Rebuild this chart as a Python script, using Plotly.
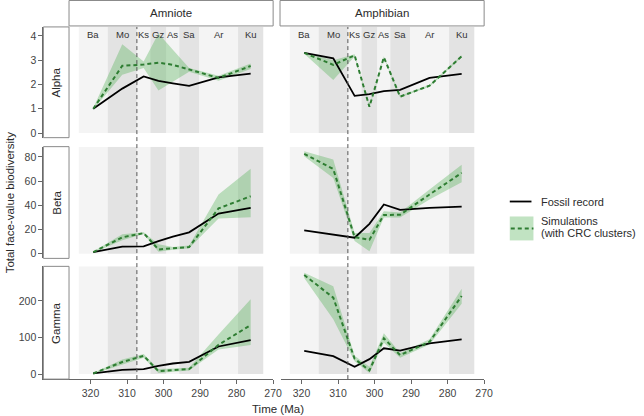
import plotly.graph_objects as go

# ---------------- data ----------------
stages = ["Ba", "Mo", "Ks", "Gz", "As", "Sa", "Ar", "Ku"]
stage_bounds = [323.2, 315.3, 307.3, 303.6, 299.2, 295.7, 290.3, 279.6, 272.7]
time_ma = [319.25, 311.3, 305.45, 301.4, 297.45, 293.0, 284.95, 276.15]
crc_age = 307.3

clades = ["Amniote", "Amphibian"]
metrics = ["Alpha", "Beta", "Gamma"]

# Amniote
amn_alpha_fossil = [1.0, 1.83, 2.33, 2.15, 2.05, 1.94, 2.29, 2.45]
amn_alpha_sim = [1.0, 2.77, 2.82, 2.90, 2.81, 2.62, 2.27, 2.76]
amn_alpha_hi = [1.03, 3.66, 2.95, 4.10, 3.43, 2.68, 2.36, 2.86]
amn_alpha_lo = [0.97, 2.40, 2.68, 1.75, 2.12, 2.52, 2.15, 2.64]

amn_beta_fossil = [1.3, 5.8, 6.0, 10.4, 14.0, 17.6, 33.2, 37.9]
amn_beta_sim = [1.3, 13.5, 17.0, 3.5, 4.4, 5.5, 37.4, 47.5]
amn_beta_hi = [1.8, 16.0, 17.8, 7.7, 5.5, 6.8, 49.0, 70.3]
amn_beta_lo = [0.8, 11.0, 16.2, 1.6, 3.3, 4.5, 29.0, 30.2]

amn_gamma_fossil = [1.8, 11.5, 13.6, 22.7, 29.0, 33.6, 75.5, 92.7]
amn_gamma_sim = [1.8, 33.0, 50.0, 8.0, 11.0, 13.6, 80.0, 134.0]
amn_gamma_hi = [3.0, 40.0, 55.0, 14.0, 15.0, 17.5, 108.0, 204.5]
amn_gamma_lo = [0.5, 27.0, 45.0, 3.0, 7.0, 10.0, 67.0, 79.5]

# Amphibian
amp_alpha_fossil = [3.30, 3.08, 1.53, 1.60, 1.73, 1.78, 2.27, 2.44]
amp_alpha_sim = [3.30, 2.81, 3.20, 1.08, 3.12, 1.50, 1.95, 3.16]
amp_alpha_hi = [3.33, 3.00, 3.25, 1.12, 3.16, 1.54, 1.99, 3.20]
amp_alpha_lo = [3.27, 2.19, 3.15, 1.04, 3.08, 1.46, 1.91, 3.12]

amp_beta_fossil = [19.2, 15.4, 13.2, 24.7, 40.7, 36.2, 37.9, 38.9]
amp_beta_sim = [82.5, 70.0, 13.6, 11.5, 32.0, 32.2, 48.9, 66.8]
amp_beta_hi = [84.6, 77.8, 17.0, 17.0, 35.0, 34.0, 53.0, 73.6]
amp_beta_lo = [80.5, 62.5, 10.5, 2.0, 30.0, 30.0, 44.8, 59.0]

amp_gamma_fossil = [63.6, 49.0, 20.0, 40.9, 70.5, 64.0, 84.0, 95.0]
amp_gamma_sim = [271.0, 209.0, 42.0, 10.0, 98.0, 52.0, 88.0, 213.6]
amp_gamma_hi = [277.0, 240.0, 50.0, 20.0, 111.5, 58.0, 95.0, 233.0]
amp_gamma_lo = [263.0, 150.0, 35.0, 3.0, 86.0, 45.0, 81.0, 192.0]

y_ticks = [[0, 1, 2, 3, 4], [0, 20, 40, 60, 80], [0, 100, 200]]
y_ranges = [[-0.19, 4.37], [-3.9, 88.5], [-13.6, 294.5]]
x_ticks = [320, 310, 300, 290, 280, 270]
x_ranges = [[332.9, 270], [325.6, 270]]

panels = {
    (0, 0): (amn_alpha_fossil, amn_alpha_sim, amn_alpha_hi, amn_alpha_lo),
    (1, 0): (amn_beta_fossil, amn_beta_sim, amn_beta_hi, amn_beta_lo),
    (2, 0): (amn_gamma_fossil, amn_gamma_sim, amn_gamma_hi, amn_gamma_lo),
    (0, 1): (amp_alpha_fossil, amp_alpha_sim, amp_alpha_hi, amp_alpha_lo),
    (1, 1): (amp_beta_fossil, amp_beta_sim, amp_beta_hi, amp_beta_lo),
    (2, 1): (amp_gamma_fossil, amp_gamma_sim, amp_gamma_hi, amp_gamma_lo),
}

# ---------------- styling ----------------
W, H = 644, 416
FONT = "Liberation Sans, Arial, sans-serif"
TXT = "#2b2b2b"
TICK = "#444444"
AX = "#666666"
RIB = "rgba(76,175,80,0.35)"
SIMC = "#2e7d32"
LIGHT = "#f4f4f4"
DARK = "#e3e3e3"
STRIP_LINE = "#8a8a8a"

col_px = [(44, 277), (285, 491)]
row_px = [(27, 138), (147, 259), (267, 380)]


def px_x(p):
    return p / W


def px_y(p):
    return 1 - p / H


fig = go.Figure()
layout = dict(
    width=W, height=H, margin=dict(l=0, r=0, t=0, b=0), autosize=False,
    paper_bgcolor="white", plot_bgcolor="white", showlegend=False,
    font=dict(family=FONT, size=11, color=TXT),
)
shapes = []
annotations = []

for (r, c), (fos, sim, hi, lo) in panels.items():
    k = r * 2 + c + 1
    xa = "x" if k == 1 else f"x{k}"
    ya = "y" if k == 1 else f"y{k}"
    xkey = "xaxis" if k == 1 else f"xaxis{k}"
    ykey = "yaxis" if k == 1 else f"yaxis{k}"
    bottom = r == 2
    left = c == 0
    layout[xkey] = dict(
        domain=[px_x(col_px[c][0]), px_x(col_px[c][1])], range=x_ranges[c],
        anchor=ya, showgrid=False, zeroline=False,
        showline=bottom, linecolor=AX, linewidth=1,
        ticks="outside" if bottom else "", ticklen=4, tickcolor=AX,
        tickvals=x_ticks if bottom else [], showticklabels=bottom,
        tickfont=dict(size=10.5, color=TICK, family=FONT),
    )
    layout[ykey] = dict(
        domain=[px_y(row_px[r][1]), px_y(row_px[r][0])], range=y_ranges[r],
        anchor=xa, showgrid=False, zeroline=False,
        showline=left, linecolor=AX, linewidth=1,
        ticks="outside" if left else "", ticklen=4, tickcolor=AX,
        tickvals=y_ticks[r] if left else [], showticklabels=left,
        tickfont=dict(size=10.5, color=TICK, family=FONT),
    )
    # stage bands
    for i in range(len(stages)):
        shapes.append(dict(
            type="rect", xref=xa, yref=ya,
            x0=stage_bounds[i], x1=stage_bounds[i + 1],
            y0=0, y1=y_ranges[r][1],
            fillcolor=LIGHT if i % 2 == 0 else DARK, line=dict(width=0),
            layer="below",
        ))
    # ribbon
    fig.add_trace(go.Scatter(
        x=time_ma + time_ma[::-1], y=hi + lo[::-1], xaxis=xa, yaxis=ya,
        fill="toself", fillcolor=RIB, line=dict(width=0), mode="lines",
        hoverinfo="skip",
    ))
    fig.add_trace(go.Scatter(
        x=time_ma, y=fos, xaxis=xa, yaxis=ya, mode="lines",
        line=dict(color="black", width=1.8),
    ))
    fig.add_trace(go.Scatter(
        x=time_ma, y=sim, xaxis=xa, yaxis=ya, mode="lines",
        line=dict(color=SIMC, width=2, dash="4px,3px"),
    ))
    # stage labels on top row
    if r == 0:
        for i, s in enumerate(stages):
            annotations.append(dict(
                x=(stage_bounds[i] + stage_bounds[i + 1]) / 2, xref=xa,
                y=px_y(35), yref="paper", text=s, showarrow=False,
                font=dict(size=9.5, color="#333333", family=FONT),
                xanchor="center", yanchor="middle",
            ))
    # CRC dashed line (spanning all rows)
    if r == 0:
        shapes.append(dict(
            type="line", xref=xa, yref="paper", x0=crc_age, x1=crc_age,
            y0=px_y(380), y1=px_y(27),
            line=dict(color="#555555", width=1, dash="4px,3px"), layer="above",
        ))

# top strips
for c, name in enumerate(clades):
    x0 = 70 if c == 0 else 284
    x1 = 277 if c == 0 else 491
    shapes.append(dict(
        type="rect", xref="paper", yref="paper",
        x0=px_x(x0), x1=px_x(x1), y0=px_y(26), y1=px_y(0.5),
        fillcolor="white", line=dict(color=STRIP_LINE, width=1), layer="above",
    ))
    annotations.append(dict(
        x=px_x((x0 + x1) / 2), y=px_y(13), xref="paper", yref="paper",
        text=name, showarrow=False, font=dict(size=11.5, color=TXT, family=FONT),
        xanchor="center", yanchor="middle",
    ))

# side strips
for r, name in enumerate(metrics):
    y0, y1 = row_px[r]
    shapes.append(dict(
        type="rect", xref="paper", yref="paper",
        x0=px_x(44), x1=px_x(70), y0=px_y(y1), y1=px_y(y0),
        fillcolor="white", line=dict(color=STRIP_LINE, width=1), layer="above",
    ))
    annotations.append(dict(
        x=px_x(57), y=px_y((y0 + y1) / 2), xref="paper", yref="paper",
        text=name, showarrow=False, textangle=-90,
        font=dict(size=11.5, color=TXT, family=FONT),
        xanchor="center", yanchor="middle",
    ))

# axis titles
annotations.append(dict(
    x=px_x(282), y=px_y(410), xref="paper", yref="paper", text="Time (Ma)",
    showarrow=False, font=dict(size=11.5, color=TXT, family=FONT),
    xanchor="center", yanchor="middle",
))
annotations.append(dict(
    x=px_x(10), y=px_y(203), xref="paper", yref="paper",
    text="Total face-value biodiversity", textangle=-90,
    showarrow=False, font=dict(size=11.5, color=TXT, family=FONT),
    xanchor="center", yanchor="middle",
))

# legend (manual)
shapes.append(dict(type="line", xref="paper", yref="paper",
                   x0=px_x(517), x1=px_x(539), y0=px_y(202), y1=px_y(202),
                   line=dict(color="black", width=1.8)))
annotations.append(dict(x=px_x(547), y=px_y(202), xref="paper", yref="paper",
                        text="Fossil record", showarrow=False,
                        font=dict(size=11, color=TXT, family=FONT),
                        xanchor="left", yanchor="middle"))
shapes.append(dict(type="rect", xref="paper", yref="paper",
                   x0=px_x(517), x1=px_x(541), y0=px_y(241), y1=px_y(217),
                   fillcolor=RIB, line=dict(width=0)))
shapes.append(dict(type="line", xref="paper", yref="paper",
                   x0=px_x(518), x1=px_x(541), y0=px_y(229), y1=px_y(229),
                   line=dict(color=SIMC, width=2, dash="4px,3px")))
annotations.append(dict(x=px_x(547), y=px_y(222), xref="paper", yref="paper",
                        text="Simulations", showarrow=False,
                        font=dict(size=11, color=TXT, family=FONT),
                        xanchor="left", yanchor="middle"))
annotations.append(dict(x=px_x(547), y=px_y(234), xref="paper", yref="paper",
                        text="(with CRC clusters)", showarrow=False,
                        font=dict(size=11, color=TXT, family=FONT),
                        xanchor="left", yanchor="middle"))

layout["shapes"] = shapes
layout["annotations"] = annotations
fig.update_layout(**layout)
fig.write_html(
    "out.html",
    config={"displayModeBar": False},
    post_script="document.body.style.margin='0';document.body.style.padding='0';",
)
